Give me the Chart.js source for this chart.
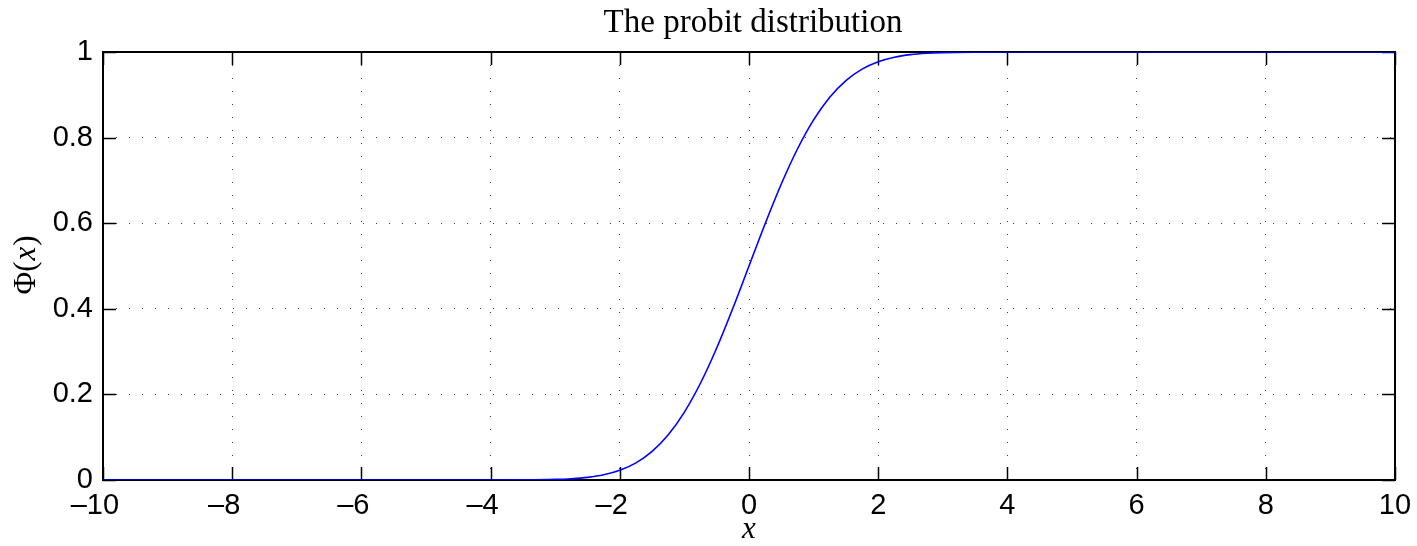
<!DOCTYPE html>
<html>
<head>
<meta charset="utf-8">
<script src="https://cdn.jsdelivr.net/npm/chart.js@4/dist/chart.umd.min.js"></script>
<style>
  html, body { margin: 0; padding: 0; background: #fff; }
  #wrap { width: 1417px; height: 546px; }
</style>
</head>
<body>
<div id="wrap"><canvas id="c" width="1417" height="546"></canvas></div>
<script>
// Data (standard normal CDF curve)
const xValues = [-10, -4, -3.5, -3, -2.75, -2.5, -2.25, -2, -1.75, -1.5, -1.25, -1, -0.75, -0.5, -0.25,
                 0, 0.25, 0.5, 0.75, 1, 1.25, 1.5, 1.75, 2, 2.25, 2.5, 2.75, 3, 3.5, 4, 10];
const phiValues = [0, 0.00003, 0.00023, 0.00135, 0.00298, 0.00621, 0.01222, 0.02275, 0.04006, 0.06681, 0.10565, 0.15866, 0.22663, 0.30854, 0.40129,
                   0.5, 0.59871, 0.69146, 0.77337, 0.84134, 0.89435, 0.93319, 0.95994, 0.97725, 0.98778, 0.99379, 0.99702, 0.99865, 0.99977, 0.99997, 1];
const xTicks = [-10, -8, -6, -4, -2, 0, 2, 4, 6, 8, 10];
const yTicks = [0, 0.2, 0.4, 0.6, 0.8, 1];
const titleText = 'The probit distribution';
const xLabel = 'x';
const yLabel = '\u03A6(x)';

const points = xValues.map((x, i) => ({ x: x, y: phiValues[i] }));

const PLOT = { left: 103, right: 1395, top: 52, bottom: 480 };
const tickFont = { family: '"Liberation Sans", Arial, Helvetica, sans-serif', size: 29 };
const SERIF = '"Liberation Serif", "DejaVu Serif", serif';

const framePlugin = {
  id: 'frame',
  beforeDatasetsDraw(chart) {
    const { ctx, chartArea: a, scales } = chart;
    ctx.save();
    ctx.strokeStyle = '#000';
    ctx.lineWidth = 1.5;
    const L = 13;
    ctx.beginPath();
    xTicks.forEach(v => {
      const px = Math.round(scales.x.getPixelForValue(v)) + 0.5;
      ctx.moveTo(px, a.bottom); ctx.lineTo(px, a.bottom - L);
      ctx.moveTo(px, a.top); ctx.lineTo(px, a.top + L);
    });
    yTicks.forEach(v => {
      const py = Math.round(scales.y.getPixelForValue(v)) + 0.5;
      ctx.moveTo(a.left, py); ctx.lineTo(a.left + L, py);
      ctx.moveTo(a.right, py); ctx.lineTo(a.right - L, py);
    });
    ctx.stroke();
    ctx.lineWidth = 2;
    ctx.strokeRect(a.left, a.top, a.right - a.left, a.bottom - a.top);
    ctx.restore();
  },
  afterDraw(chart) {
    const { ctx, chartArea: a } = chart;
    const cx = (a.left + a.right) / 2;
    ctx.save();
    ctx.fillStyle = '#000';
    // title
    ctx.font = '33px ' + SERIF;
    ctx.textAlign = 'center';
    ctx.textBaseline = 'alphabetic';
    ctx.fillText(titleText, cx + 4, 32);
    // x label
    ctx.font = 'italic 31px ' + SERIF;
    ctx.fillText(xLabel, cx, 538);
    // y label rotated
    ctx.translate(35, (a.top + a.bottom) / 2);
    ctx.rotate(-Math.PI / 2);
    const up = '31px ' + SERIF, it = 'italic 31px ' + SERIF;
    const p1 = '\u03A6(', p2 = 'x', p3 = ')';
    ctx.font = up; const w1 = ctx.measureText(p1).width;
    ctx.font = it; const w2 = ctx.measureText(p2).width;
    ctx.font = up; const w3 = ctx.measureText(p3).width;
    const tot = w1 + w2 + w3;
    ctx.textAlign = 'left';
    const x0 = -tot / 2;
    ctx.font = up; ctx.fillText(p1, x0, 0);
    ctx.font = it; ctx.fillText(p2, x0 + w1 + 1, 0);
    ctx.font = up; ctx.fillText(p3, x0 + w1 + w2 + 2, 0);
    ctx.restore();
  }
};

new Chart(document.getElementById('c'), {
  type: 'scatter',
  data: {
    datasets: [{
      data: points,
      showLine: true,
      borderColor: '#0000ff',
      borderWidth: 1.6,
      pointRadius: 0,
      fill: false,
      cubicInterpolationMode: 'monotone'
    }]
  },
  options: {
    responsive: false,
    animation: false,
    devicePixelRatio: 1,
    layout: { padding: { top: PLOT.top, right: 1417 - PLOT.right, left: 0, bottom: 0 } },
    plugins: {
      legend: { display: false },
      tooltip: { enabled: false },
      title: { display: false }
    },
    scales: {
      x: {
        type: 'linear',
        min: -10, max: 10,
        afterBuildTicks(scale) { scale.ticks = xTicks.map(v => ({ value: v })); },
        afterFit(scale) {
          scale.height = 546 - PLOT.bottom;
          scale.paddingLeft = 0; scale.paddingRight = 0;
        },
        ticks: {
          color: '#000',
          font: tickFont,
          padding: 9,
          maxRotation: 0,
          autoSkip: false,
          callback: v => (v < 0 ? '\u2013' + Math.abs(v) + '\u2007' : String(v))
        },
        grid: { color: 'rgba(0,0,0,0.75)', lineWidth: 1, drawTicks: false },
        border: { display: false, dash: [1, 12] }
      },
      y: {
        type: 'linear',
        min: 0, max: 1,
        afterBuildTicks(scale) { scale.ticks = yTicks.map(v => ({ value: v })); },
        afterFit(scale) {
          scale.width = PLOT.left;
          scale.paddingTop = 0; scale.paddingBottom = 0;
        },
        ticks: {
          color: '#000',
          font: tickFont,
          padding: 10,
          autoSkip: false,
          callback: v => String(v)
        },
        grid: { color: 'rgba(0,0,0,0.75)', lineWidth: 1, drawTicks: false },
        border: { display: false, dash: [1, 12] }
      }
    }
  },
  plugins: [framePlugin]
});
</script>
</body>
</html>
